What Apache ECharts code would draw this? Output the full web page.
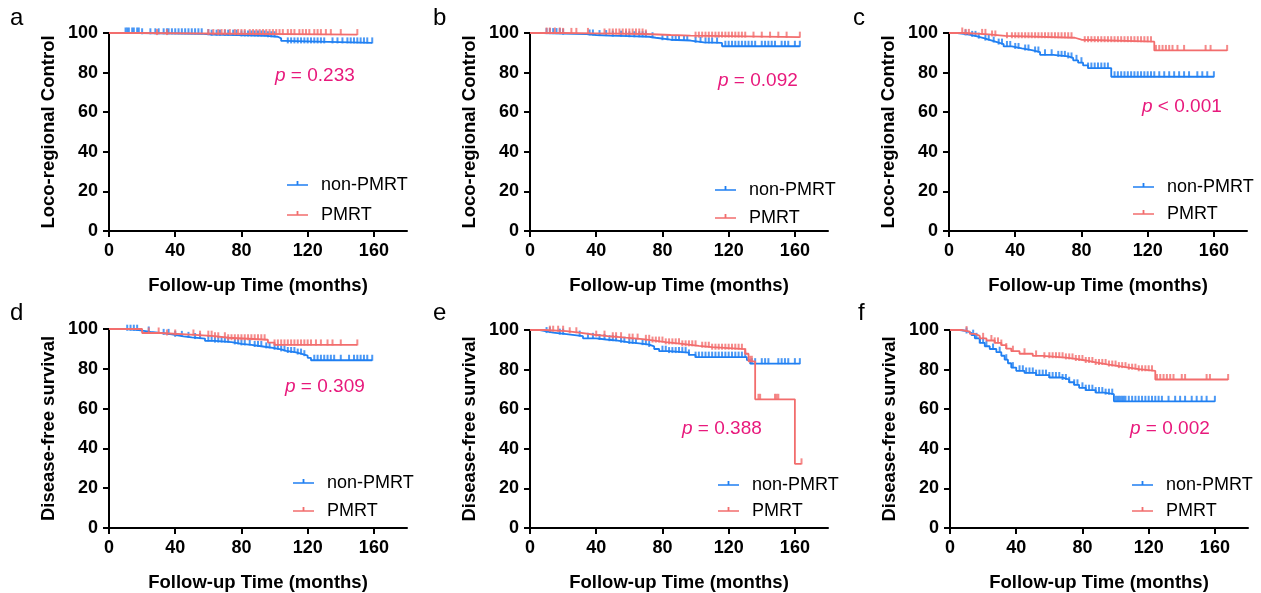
<!DOCTYPE html>
<html>
<head>
<meta charset="utf-8">
<script src="https://cdn.jsdelivr.net/npm/echarts@6/dist/echarts.min.js"></script>
<style>html,body{margin:0;padding:0;background:#fff}#c{width:1261px;height:593px}</style>
</head>
<body>
<div id="c"></div>
<script>
// ---------- DATA (months, survival %) ----------
const xTicks = [0, 40, 80, 120, 160];
const panelLetters = ['a', 'b', 'c', 'd', 'e', 'f'];
const yTitles = ['Loco-regional Control', 'Loco-regional Control', 'Loco-regional Control',
                 'Disease-free survival', 'Disease-free survival', 'Disease-free survival'];
const pTexts = ['= 0.233', '= 0.092', '< 0.001', '= 0.309', '= 0.388', '= 0.002'];

// Panel a
const a_non_t = [19, 57, 62, 78, 95, 102, 104, 106];
const a_non_s = [99.6, 99.2, 98.9, 98.5, 98.1, 97.3, 96.0, 95.0];
const a_non_end = 159;
const a_non_c = [10,11,12,14,15,17,18,20,25,28,30,33,35,36,38,40,42,44,46,48,50,52,54,56,60,62,65,67,70,72,75,77,80,82,84,86,88,90,92,94,96,98,100,108,110,112,114,116,118,120,122,124,126,128,130,135,138,141,144,146,148,150,152,154,156,159];
const a_pm_t = [19];
const a_pm_s = [99.2];
const a_pm_end = 150;
const a_pm_c = [29,35,60,63,66,68,70,73,76,78,80,82,85,87,89,91,93,95,97,99,101,103,105,108,110,112,115,117,119,121,124,126,128,131,134,140,150];

// Panel b
const b_non_t = [8, 20, 34, 40, 48, 60, 72, 76, 85, 97, 105, 116];
const b_non_s = [99.7, 99.4, 99.0, 98.7, 98.4, 98.1, 97.6, 96.6, 96.2, 95.3, 95.0, 93.3];
const b_non_end = 163;
const b_non_c = [10,12,14,16,18,20,36,38,42,46,50,55,58,60,63,66,68,70,74,80,83,86,88,90,93,95,100,103,106,108,110,113,118,120,122,124,126,128,130,132,134,136,140,142,144,146,148,152,154,156,160,163];
const b_pm_t = [20, 40, 70, 85, 97];
const b_pm_s = [99.8, 99.5, 99.0, 98.7, 97.9];
const b_pm_end = 163;
const b_pm_c = [10,12,15,18,20,25,28,35,45,48,50,52,54,56,58,60,62,64,66,68,70,100,102,104,106,108,110,112,114,116,118,120,122,124,126,128,130,135,140,145,150,155,163];

// Panel c
const c_non_t = [5, 9, 13, 17, 21, 25, 29, 33, 38, 44, 50, 55, 63, 72, 75, 78, 81, 84, 98];
const c_non_s = [99.6, 99.0, 98.3, 97.4, 96.4, 95.4, 94.4, 93.2, 92.2, 91.4, 90.4, 89.0, 88.2, 87.4, 86.2, 85.0, 83.6, 82.3, 77.9];
const c_non_end = 160;
const c_non_c = [10,14,16,18,22,24,27,30,32,35,37,40,42,46,48,52,54,58,62,66,68,70,72,74,77,80,84,86,88,90,92,94,96,100,102,104,106,108,110,112,114,116,118,120,122,124,127,130,133,136,139,142,145,150,153,156,160];
const c_pm_t = [10, 24, 34, 76, 80, 124];
const c_pm_s = [99.3, 98.5, 97.6, 96.6, 95.6, 91.2];
const c_pm_end = 168;
const c_pm_c = [8,10,12,20,22,26,28,35,38,40,42,44,46,48,50,52,54,56,58,60,62,64,66,68,70,72,74,82,84,86,88,90,92,94,96,98,100,102,104,106,108,110,112,114,116,118,120,122,125,127,129,131,133,135,138,142,155,158,168];

// Panel d
const d_non_t = [10, 18, 25, 31, 38, 45, 50, 58, 64, 74, 80, 86, 93, 99, 104, 107, 113, 117, 120, 122];
const d_non_s = [99.4, 98.5, 98.1, 97.3, 96.3, 95.8, 95.2, 94.0, 93.4, 92.5, 92.0, 91.2, 90.5, 89.8, 89.0, 88.2, 87.4, 86.6, 85.5, 84.3];
const d_non_end = 159;
const d_non_c = [11,13,15,17,24,33,36,40,44,48,52,55,60,62,64,66,68,70,72,76,78,80,82,85,88,90,92,95,97,100,102,104,106,108,110,112,114,116,118,124,126,128,130,132,134,136,140,145,148,150,152,154,156,159];
const d_pm_t = [20, 31, 52, 64, 72, 96, 100];
const d_pm_s = [98.0, 97.0, 96.4, 95.6, 94.6, 93.2, 92.0];
const d_pm_end = 150;
const d_pm_c = [24,30,35,40,51,55,60,62,64,66,70,72,74,76,78,80,82,84,86,88,90,92,94,100,102,104,106,108,110,112,114,116,118,120,122,125,128,132,135,140,150];

// Panel e
const e_non_t = [6, 10, 14, 22, 32, 40, 46, 53, 60, 66, 72, 75, 78, 84, 96, 100, 131, 133];
const e_non_s = [99.3, 98.7, 97.9, 96.9, 95.8, 95.2, 94.6, 93.8, 93.2, 92.6, 91.7, 90.4, 89.3, 88.6, 87.4, 86.3, 84.8, 83.0];
const e_non_end = 163;
const e_non_c = [10,12,18,20,30,35,38,42,45,48,50,52,55,57,60,62,64,68,70,72,80,82,84,86,88,90,92,94,96,100,102,104,106,108,110,112,114,116,118,120,122,124,126,128,130,134,136,140,142,144,150,152,154,156,160,163];
const e_pm_t = [9, 22, 31, 39, 47, 58, 68, 74, 82, 92, 102, 110, 130, 132, 136, 160];
const e_pm_s = [99.4, 98.6, 97.6, 96.9, 96.1, 95.4, 94.8, 93.9, 93.0, 92.0, 91.3, 90.3, 88.0, 84.2, 65.0, 32.4];
const e_pm_end = 164;
const e_pm_c = [12,14,17,20,24,28,40,45,50,52,55,60,62,65,70,72,74,76,78,80,82,84,86,88,90,92,94,96,98,100,104,106,108,110,112,114,116,118,120,122,124,126,128,130,133,134,138,139,148,149,150,164];

// Panel f
const f_non_t = [6, 10, 13, 15, 18, 21, 24, 28, 31, 33, 35, 37, 40, 45, 52, 60, 68, 72, 75, 78, 82, 88, 93, 99];
const f_non_s = [99.5, 98.5, 97.4, 95.8, 93.5, 91.8, 90.4, 88.8, 87.0, 85.0, 83.2, 81.0, 79.4, 78.3, 77.2, 76.0, 75.0, 73.6, 72.3, 70.8, 69.6, 68.4, 67.6, 64.0];
const f_non_end = 160;
const f_non_c = [10,14,16,18,20,22,26,30,34,38,42,44,46,48,50,52,54,56,58,60,62,64,66,68,70,72,75,77,80,82,84,86,88,90,92,94,96,98,100,101,102,103,104,105,106,108,110,112,114,116,118,120,122,124,126,128,132,136,139,142,146,149,152,155,160];
const f_pm_t = [7, 12, 15, 18, 22, 27, 31, 34, 37, 42, 50, 56, 70, 76, 82, 88, 95, 102, 108, 114, 124];
const f_pm_s = [99.2, 98.0, 97.0, 95.8, 94.7, 93.5, 92.4, 90.6, 89.3, 88.0, 86.9, 86.0, 85.4, 84.6, 83.6, 82.6, 81.8, 81.0, 80.2, 79.4, 75.0];
const f_pm_end = 168;
const f_pm_c = [10,20,25,27,29,31,34,38,45,52,57,60,62,64,66,68,70,72,74,76,78,80,82,84,86,88,90,92,94,96,98,100,102,104,106,108,110,112,114,116,118,120,122,125,127,129,131,133,135,140,142,155,157,168];

const panels = [
  {non: [a_non_t, a_non_s, a_non_end, a_non_c], pm: [a_pm_t, a_pm_s, a_pm_end, a_pm_c]},
  {non: [b_non_t, b_non_s, b_non_end, b_non_c], pm: [b_pm_t, b_pm_s, b_pm_end, b_pm_c]},
  {non: [c_non_t, c_non_s, c_non_end, c_non_c], pm: [c_pm_t, c_pm_s, c_pm_end, c_pm_c]},
  {non: [d_non_t, d_non_s, d_non_end, d_non_c], pm: [d_pm_t, d_pm_s, d_pm_end, d_pm_c]},
  {non: [e_non_t, e_non_s, e_non_end, e_non_c], pm: [e_pm_t, e_pm_s, e_pm_end, e_pm_c]},
  {non: [f_non_t, f_non_s, f_non_end, f_non_c], pm: [f_pm_t, f_pm_s, f_pm_end, f_pm_c]}
];

// ---------- LAYOUT / STYLE ----------
const FONT = '"Liberation Sans", Arial, Helvetica, sans-serif';
const BLUE = '#1f7ff2';
const RED = '#f26d6d';
const PINK = '#e8197c';
const grids = [
  {left: 109, top: 33, width: 298, height: 198},
  {left: 530, top: 33, width: 298, height: 198},
  {left: 949, top: 33, width: 298, height: 198},
  {left: 109, top: 329, width: 298, height: 199},
  {left: 530, top: 330, width: 298, height: 199},
  {left: 950, top: 330, width: 298, height: 198}
];
const letterPos = [[10, 20], [433, 20], [853, 20], [10, 315], [433, 315], [858, 315]];
const pPos = [[275, 77], [718, 82], [1142, 108], [285, 388], [682, 430], [1130, 430]];
const legendPos = [[287, 175, 10], [715, 180, 8], [1133, 177, 7], [293, 473, 8], [718, 475, 6], [1132, 475, 6]];

function stepData(t, s, end) {
  const d = [[0, 100]];
  for (let i = 0; i < t.length; i++) d.push([t[i], s[i]]);
  d.push([end, s.length ? s[s.length - 1] : 100]);
  return d;
}
function censorData(t, s, c) {
  return c.map(ct => {
    let v = 100;
    for (let i = 0; i < t.length; i++) if (t[i] <= ct) v = s[i];
    return [ct, v];
  });
}

const TICK = 'path://M0,0L1,0L1,2L0,2Z';
const LEG_ICON = 'path://M0,3.1L21,3.1L21,4.8L0,4.8Z M9.6,0L11.4,0L11.4,4L9.6,4Z M28.98,7.9L29,7.9L29,7.92L28.98,7.92Z';

const option = {
  animation: false,
  backgroundColor: '#fff',
  textStyle: {fontFamily: FONT},
  grid: grids,
  xAxis: [], yAxis: [], series: [], legend: [], graphic: []
};

grids.forEach((g, i) => {
  option.xAxis.push({
    gridIndex: i, type: 'value', min: 0, max: 180, interval: 40,
    axisLine: {show: true, onZero: false, lineStyle: {color: '#000', width: 2}},
    axisTick: {show: true, length: 6, lineStyle: {color: '#000', width: 2}, customValues: xTicks},
    axisLabel: {color: '#000', fontSize: 18, fontWeight: 'bold', fontFamily: FONT, margin: 11,
                customValues: xTicks, formatter: v => (v > 160 ? '' : String(v))},
    splitLine: {show: false},
    name: 'Follow-up Time (months)', nameLocation: 'middle', nameGap: 45,
    nameTextStyle: {color: '#000', fontSize: 18.5, fontWeight: 'bold', fontFamily: FONT}
  });
  option.yAxis.push({
    gridIndex: i, type: 'value', min: 0, max: 100, interval: 20,
    axisLine: {show: true, onZero: false, lineStyle: {color: '#000', width: 2}},
    axisTick: {show: true, length: 6, lineStyle: {color: '#000', width: 2}},
    axisLabel: {color: '#000', fontSize: 18, fontWeight: 'bold', fontFamily: FONT, margin: 11},
    splitLine: {show: false},
    name: yTitles[i], nameLocation: 'middle', nameGap: 51,
    nameTextStyle: {color: '#000', fontSize: 18.5, fontWeight: 'bold', fontFamily: FONT}
  });
  const p = panels[i];
  [['non-PMRT', p.non, BLUE], ['PMRT', p.pm, RED]].forEach(([name, arr, col]) => {
    option.series.push({
      name: name, type: 'line', xAxisIndex: i, yAxisIndex: i, step: 'end',
      data: stepData(arr[0], arr[1], arr[2]), showSymbol: false, symbol: 'none',
      color: col, lineStyle: {color: col, width: 1.8}, z: name === 'PMRT' ? 3 : 2
    });
    option.series.push({
      name: name, type: 'scatter', xAxisIndex: i, yAxisIndex: i,
      data: censorData(arr[0], arr[1], arr[3]), symbol: TICK, symbolSize: [2, 6],
      symbolOffset: [0, -2.5], itemStyle: {color: col}, z: name === 'PMRT' ? 3 : 2
    });
  });
  const lp = legendPos[i];
  option.legend.push({
    orient: 'vertical', left: lp[0], top: lp[1], itemGap: lp[2], padding: 0,
    itemWidth: 29, itemHeight: 8,
    data: [{name: 'non-PMRT', icon: LEG_ICON}, {name: 'PMRT', icon: LEG_ICON}],
    textStyle: {color: '#000', fontSize: 18, fontFamily: FONT, lineHeight: 20},
    selectedMode: false
  });
  option.graphic.push({
    type: 'text', left: letterPos[i][0], top: letterPos[i][1] - 14,
    style: {text: panelLetters[i], fill: '#000', font: '24px ' + FONT}
  });
  option.graphic.push({
    type: 'text', left: pPos[i][0], top: pPos[i][1] - 11,
    style: {
      text: '{i|p} ' + pTexts[i], fill: PINK, font: '19px ' + FONT,
      rich: {i: {fontStyle: 'italic', fontSize: 19, fill: PINK, fontFamily: FONT}}
    }
  });
});

const chart = echarts.init(document.getElementById('c'), null, {renderer: 'canvas'});
chart.setOption(option);
</script>
</body>
</html>
